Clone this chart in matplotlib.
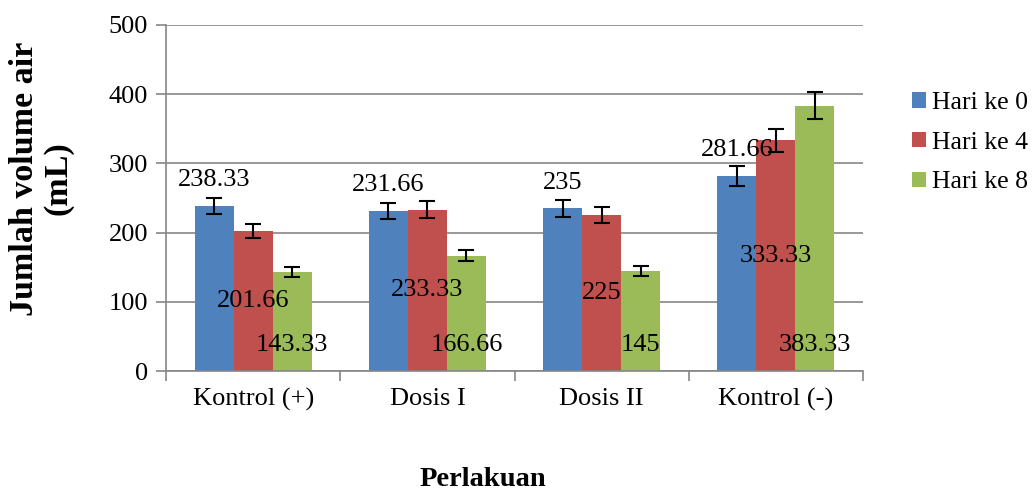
import matplotlib
matplotlib.use('Agg')
import matplotlib.pyplot as plt
from matplotlib.ticker import FixedLocator
import numpy as np

plt.rcParams['font.family'] = ['Liberation Serif', 'DejaVu Serif']

categories = ['Kontrol (+)', 'Dosis I', 'Dosis II', 'Kontrol (-)']
series = ['Hari ke 0', 'Hari ke 4', 'Hari ke 8']
hari0 = [238.33, 231.66, 235, 281.66]
hari4 = [201.66, 233.33, 225, 333.33]
hari8 = [143.33, 166.66, 145, 383.33]
err0 = [11.9, 11.6, 11.8, 14.1]
err4 = [10.1, 11.7, 11.3, 16.7]
err8 = [7.2, 8.3, 7.3, 19.2]
label0 = ['238.33', '231.66', '235', '281.66']
label4 = ['201.66', '233.33', '225', '333.33']
label8 = ['143.33', '166.66', '145', '383.33']

colors = ['#4F81BD', '#C0504D', '#9BBB59']

fig = plt.figure(figsize=(10.32, 4.92), dpi=100)
ax = fig.add_axes([0.1609, 0.2459, 0.6753, 0.7033])

x = np.arange(len(categories))
w = 0.224
data = [hari0, hari4, hari8]
errs = [err0, err4, err8]

bars = []
for i in range(3):
    pos = x + (i - 1) * w
    b = ax.bar(pos, data[i], w, color=colors[i], label=series[i], zorder=2)
    bars.append(b)
    ax.errorbar(pos, data[i], yerr=errs[i], fmt='none', ecolor='black',
                elinewidth=1.5, capsize=6, capthick=1.5, zorder=3)

# data labels: blue above, red centred, green at the base
for j in range(len(categories)):
    ax.annotate(label0[j], (x[j] - w, hari0[j]), xytext=(0, 18.5),
                textcoords='offset points', ha='center', va='center',
                fontsize=19, zorder=4)
    ax.text(x[j], hari4[j] / 2, label4[j], ha='center', va='center',
            fontsize=19, zorder=4)
    ax.annotate(label8[j], (x[j] + w, 0), xytext=(0, 18.5),
                textcoords='offset points', ha='center', va='center',
                fontsize=19, zorder=4)

ax.set_xlim(-0.5, len(categories) - 0.5)
ax.set_ylim(0, 500)
ax.set_yticks(range(0, 501, 100))
ax.set_xticks(x)
ax.set_xticklabels(categories)
ax.xaxis.set_minor_locator(FixedLocator(np.arange(-0.5, len(categories), 1)))
ax.tick_params(axis='x', which='major', length=0, pad=12, labelsize=19)
ax.tick_params(axis='x', which='minor', length=7, color='#868686', width=1.2)
ax.tick_params(axis='y', length=7, color='#868686', width=1.2, labelsize=19, pad=6)
ax.grid(axis='y', color='#868686', linewidth=1.2, zorder=0)
ax.set_axisbelow(True)
for s in ['top', 'right']:
    ax.spines[s].set_visible(False)
for s in ['left', 'bottom']:
    ax.spines[s].set_color('#868686')
    ax.spines[s].set_linewidth(1.2)

fig.text(0.040, 0.637, 'Jumlah volume air\n(mL)', rotation=90, ha='center',
         va='center', fontsize=24.5, fontweight='bold', linespacing=1.1)
fig.text(0.468, 0.025, 'Perlakuan', ha='center', va='center',
         fontsize=20.5, fontweight='bold')

fig.legend(handles=bars, labels=series, loc='upper left',
           bbox_to_anchor=(0.874, 0.834), frameon=False, fontsize=18.5,
           handlelength=0.54, handleheight=0.54, handletextpad=0.23,
           labelspacing=0.69, borderaxespad=0)

fig.savefig('out.png', dpi=100)
